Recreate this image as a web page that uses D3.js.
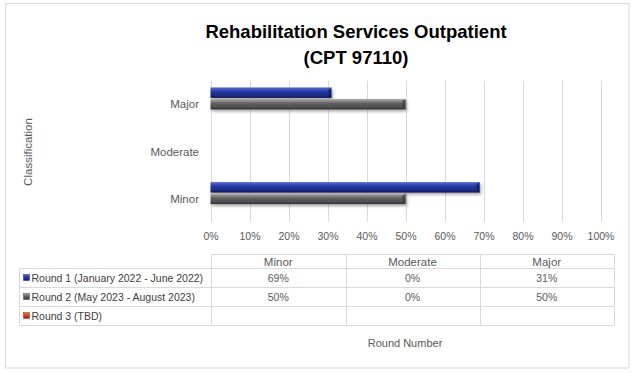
<!DOCTYPE html>
<html><head><meta charset="utf-8">
<script src="https://cdn.jsdelivr.net/npm/d3@7"></script>
<style>body{margin:0;background:#fff}svg{display:block}text{font-family:"Liberation Sans",Arial,sans-serif}</style>
</head><body>
<script>
const categories = ["Major","Moderate","Minor"];           // top to bottom
const tableCategories = ["Minor","Moderate","Major"];
const seriesNames = ["Round 1 (January 2022 - June 2022)","Round 2 (May 2023 - August 2023)","Round 3 (TBD)"];
const round1 = {Minor:0.69, Moderate:0.00, Major:0.31};
const round2 = {Minor:0.50, Moderate:0.00, Major:0.50};
const round3 = {Minor:null, Moderate:null, Major:null};
const xTicks = [0,0.1,0.2,0.3,0.4,0.5,0.6,0.7,0.8,0.9,1.0];
const titleLines = ["Rehabilitation Services Outpatient","(CPT 97110)"];

const W=635,H=373;
const svg=d3.select("body").append("svg").attr("width",W).attr("height",H);
const defs=svg.append("defs");
function grad(id,stops){const g=defs.append("linearGradient").attr("id",id).attr("x1",0).attr("y1",0).attr("x2",0).attr("y2",1);
 stops.forEach(s=>g.append("stop").attr("offset",s[0]).attr("stop-color",s[1]));}
grad("gBlue",[[0,"#5a72dc"],[0.2,"#3a52bc"],[0.45,"#22369a"],[0.8,"#1a2a82"],[1,"#0c1450"]]);
grad("gGrey",[[0,"#b0b0b0"],[0.2,"#8a8a8a"],[0.45,"#5e5e5e"],[0.8,"#4e4e4e"],[1,"#2a2a2a"]]);
grad("gOrange",[[0,"#f08050"],[0.3,"#d85520"],[1,"#902a05"]]);
const f=defs.append("filter").attr("id","sh").attr("x","-10%").attr("y","-50%").attr("width","130%").attr("height","220%");
f.append("feDropShadow").attr("dx",1.5).attr("dy",2).attr("stdDeviation",1.6).attr("flood-color","#000").attr("flood-opacity",0.35);
const fills=["url(#gBlue)","url(#gGrey)","url(#gOrange)"];
const seriesData=[round1,round2,round3];

// outer border
svg.append("rect").attr("x",5.5).attr("y",3.5).attr("width",623.5).attr("height",364.5).attr("fill","none").attr("stroke","#d9d9d9");

// title
svg.append("text").attr("x",356).attr("text-anchor","middle").attr("font-weight","bold").attr("font-size",18.5).attr("fill","#000")
 .selectAll("tspan").data(titleLines).join("tspan").attr("x",356).attr("y",(d,i)=>38+i*26).text(d=>d);

const x=d3.scaleLinear().domain([0,1]).range([210.5,600.5]);
const y=d3.scaleBand().domain(categories).range([81,223]);
const yi=d3.scaleBand().domain([0,1,2]).range([0,y.bandwidth()]).paddingOuter(0.556);

// gridlines
svg.append("g").selectAll("line").data(xTicks).join("line")
 .attr("x1",d=>Math.round(x(d))+0.5).attr("x2",d=>Math.round(x(d))+0.5).attr("y1",81).attr("y2",222)
 .attr("stroke","#d9d9d9").attr("stroke-width",1);

// x tick labels via axis
const xAxis=svg.append("g").attr("transform","translate(0,226)")
 .call(d3.axisBottom(x).tickValues(xTicks).tickFormat(d3.format(".0%")).tickSize(0).tickPadding(0));
xAxis.select(".domain").remove();
xAxis.selectAll("text").attr("font-size",10.5).attr("fill","#595959").attr("font-family","Liberation Sans, Arial").attr("dy","0.3em").attr("y",11);

// y category labels
const yAxis=svg.append("g").attr("transform","translate(199,0)")
 .call(d3.axisLeft(y).tickSize(0).tickPadding(0));
yAxis.select(".domain").remove();
yAxis.selectAll("text").attr("font-size",11.5).attr("fill","#595959").attr("font-family","Liberation Sans, Arial").attr("x",0).attr("text-anchor","end");

// bars
seriesData.forEach((s,si)=>{
 const data=categories.map(c=>({c,v:s[c]})).filter(d=>d.v!=null && d.v>0);
 const g=svg.append("g").attr("filter","url(#sh)");
 g.selectAll("rect").data(data).join("rect")
  .attr("x",x(0)).attr("y",d=>y(d.c)+yi(si)).attr("width",d=>x(d.v)-x(0)).attr("height",yi.bandwidth()-1)
  .attr("fill",fills[si]);
 svg.append("g").selectAll("path").data(data).join("path")
  .attr("d",d=>{const xe=x(d.v),y0=y(d.c)+yi(si),h=yi.bandwidth()-1;return `M${xe-3},${y0+2}L${xe},${y0}L${xe},${y0+h}L${xe-3},${y0+h-2}Z`;})
  .attr("fill",si==0?"#0e1a66":"#3a3a3a").attr("opacity",0.7);
});

// axis titles
svg.append("text").attr("transform","translate(32,152) rotate(-90)").attr("text-anchor","middle")
 .attr("font-size",11.5).attr("fill","#595959").text("Classification");
svg.append("text").attr("x",405).attr("y",347).attr("text-anchor","middle").attr("font-size",11).attr("fill","#595959").text("Round Number");

// data table
const colX=[211,345.5,479.5,614];
const rowY=[254.5,268.5,287.5,306.5,325.5];
const tg=svg.append("g").attr("stroke","#d9d9d9").attr("stroke-width",1);
tg.append("line").attr("x1",211).attr("x2",614).attr("y1",rowY[0]).attr("y2",rowY[0]);
rowY.slice(1).forEach(yy=>tg.append("line").attr("x1",19.5).attr("x2",614).attr("y1",yy).attr("y2",yy));
colX.forEach(xx=>tg.append("line").attr("x1",Math.round(xx)+0.5).attr("x2",Math.round(xx)+0.5).attr("y1",rowY[0]).attr("y2",rowY[4]));
tg.append("line").attr("x1",19.5).attr("x2",19.5).attr("y1",rowY[1]).attr("y2",rowY[4]);
const colMid=tableCategories.map((c,i)=>(colX[i]+colX[i+1])/2);
svg.append("g").selectAll("text").data(tableCategories).join("text")
 .attr("x",(d,i)=>colMid[i]).attr("y",(rowY[0]+rowY[1])/2+4).attr("text-anchor","middle").attr("font-size",11.5).attr("fill","#595959").text(d=>d);
seriesData.forEach((s,si)=>{
 const cy=(rowY[si+1]+rowY[si+2])/2;
 svg.append("rect").attr("x",23.5).attr("y",cy-3.5).attr("width",6).attr("height",6).attr("fill",fills[si]).attr("stroke",si==0?"#1a2a82":si==1?"#444":"#a03010").attr("stroke-width",0.5);
 svg.append("text").attr("x",31.5).attr("y",cy+3.8).attr("font-size",10.5).attr("fill","#404040").text(seriesNames[si]);
 tableCategories.forEach((c,ci)=>{
  if(s[c]==null) return;
  svg.append("text").attr("x",colMid[ci]).attr("y",cy+3.8).attr("text-anchor","middle").attr("font-size",10.5).attr("fill","#595959").text(d3.format(".0%")(s[c]));
 });
});
</script>
</body></html>
